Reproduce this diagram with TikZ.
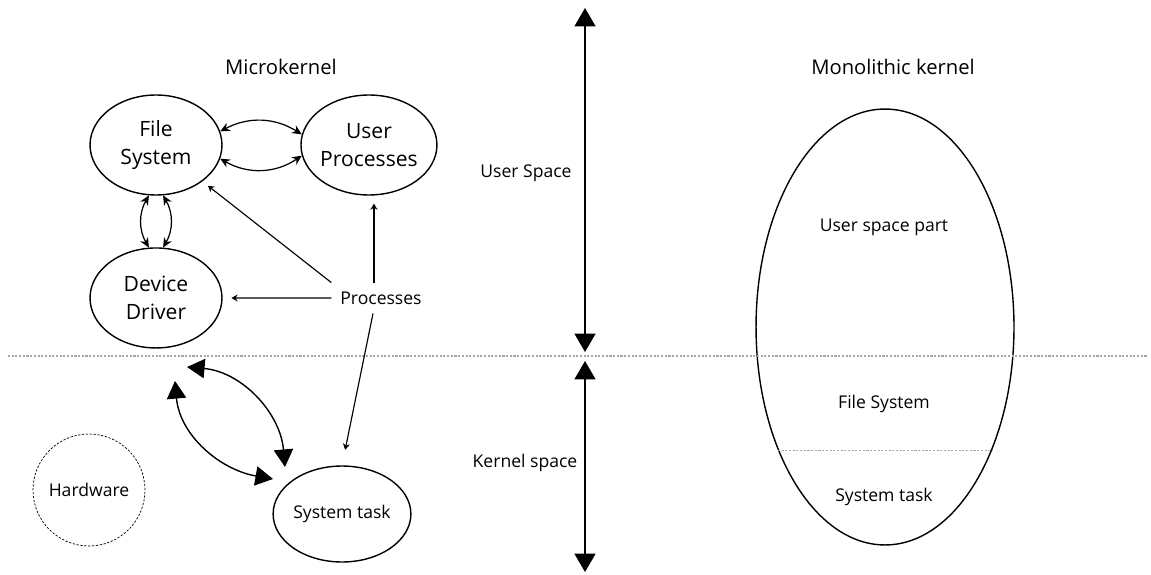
\documentclass[tikz,border=0pt]{standalone}
\usepackage{fontspec}
\setmainfont{Open Sans}
\usepackage{tikz}
\usetikzlibrary{positioning,shapes.geometric,arrows.meta}

\tikzset{
  proc/.style={ellipse,draw,line width=0.8pt,minimum width=2.64cm,minimum height=2cm,inner ysep=0pt,inner xsep=-6pt,align=center,font=\fontsize{12}{16}\selectfont},
  task/.style={ellipse,draw,line width=0.8pt,minimum width=2.72cm,minimum height=1.92cm,inner sep=0pt,font=\fontsize{10}{12}\selectfont},
  hw/.style={circle,draw,dash pattern=on 1.3pt off 0.9pt,line width=0.4pt,minimum size=2.24cm,inner sep=0pt,font=\fontsize{10}{12}\selectfont},
  mono/.style={ellipse,draw,line width=0.8pt,minimum width=5.16cm,minimum height=8.72cm,inner sep=0pt},
  lbl/.style={font=\fontsize{10}{12}\selectfont},
  title/.style={font=\fontsize{11.5}{14}\selectfont},
  sep/.style={draw=gray!70,line width=0.6pt,dash pattern=on 1.2pt off 0.9pt},
  small/.style={{Stealth[length=5.5pt,width=5pt]}-{Stealth[length=5.5pt,width=5pt]},line width=0.7pt},
  one/.style={-{Stealth[length=3.5pt,width=4pt]},line width=0.65pt},
  big/.style={{Triangle[width=11pt,length=10pt]}-{Triangle[width=11pt,length=10pt]},line width=0.8pt},
}

\begin{document}
\begin{tikzpicture}[x=0.02cm,y=0.02cm]
    \useasboundingbox (0,0) rectangle (1151,-574);

    % microkernel side
    \node[title] (mk) at (281,-67) {Microkernel};
    \node[proc] (fs) at (156,-145) {File\\System};
    \node[proc,minimum width=2.72cm] (up) [right of=fs,node distance=4.26cm] {User\\Processes};
    \node[proc] (dd) [below of=fs,node distance=3.06cm] {Device\\Driver};
    \node[lbl,inner sep=5pt] (pr) at (381,-298) {Processes};
    \node[hw] (hw) at (89,-490) {Hardware};
    \node[task] (st) at (342,-514) {System task};

    % monolithic side
    \node[title] (mo) at (893,-67) {Monolithic kernel};
    \node[mono] (mn) at (885,-327) {};
    \node[lbl] (usp) at (884,-227) {User space part};
    \node[lbl] (mfs) at (884,-404) {File System};
    \node[lbl] (mst) at (884,-497) {System task};
    \draw[sep] (mn.-131) -- (mn.-49);

    % space labels
    \node[lbl] (us) at (526,-173) {User Space};
    \node[lbl] (ks) at (525,-463) {Kernel space};

    \coordinate (sl) at (8,-356);
    \coordinate (sr) at (1148,-356);
    \coordinate (ut) at (585,-8);
    \coordinate (ub) at (585,-352);
    \coordinate (kt) at (585,-361);
    \coordinate (kb) at (585,-572);
    \draw[sep] (sl) -- (sr);
    \draw[big,{Triangle[width=12pt,length=10.5pt]}-{Triangle[width=12pt,length=10.5pt]}] (ut) -- (ub);
    \draw[big,{Triangle[width=12pt,length=10.5pt]}-{Triangle[width=12pt,length=10.5pt]}] (kt) -- (kb);

    % paths between the servers
    \path[small]
    (fs.12)  edge [bend left=30]  (up.171)
    (fs.-12) edge [bend right=32] (up.189)
    (fs.-98) edge [bend right=30] (dd.98)
    (fs.-82) edge [bend left=30]  (dd.82);

    % paths from the processes
    \draw[one,shorten >=4pt] (pr.north west) -- (fs);
    \draw[one,shorten >=5pt] (pr.west) -- (dd.east);
    \draw[one,shorten >=4.5pt] (pr.north -| up) ++(5,0) coordinate (pu) -- (up.south -| pu);
    \draw[one,shorten >=9pt] (pr.south) ++(-8,0) coordinate (pd) -- (st.north);

    % kernel messages
    \coordinate (a1) at (187,-367);
    \coordinate (a2) at (285,-467);
    \coordinate (b1) at (175,-381);
    \coordinate (b2) at (273,-479);
    \draw[big] (a1) to[out=-5,in=95] (a2);
    \draw[big] (b1) to[out=-85,in=170] (b2);
\end{tikzpicture}
\end{document}
